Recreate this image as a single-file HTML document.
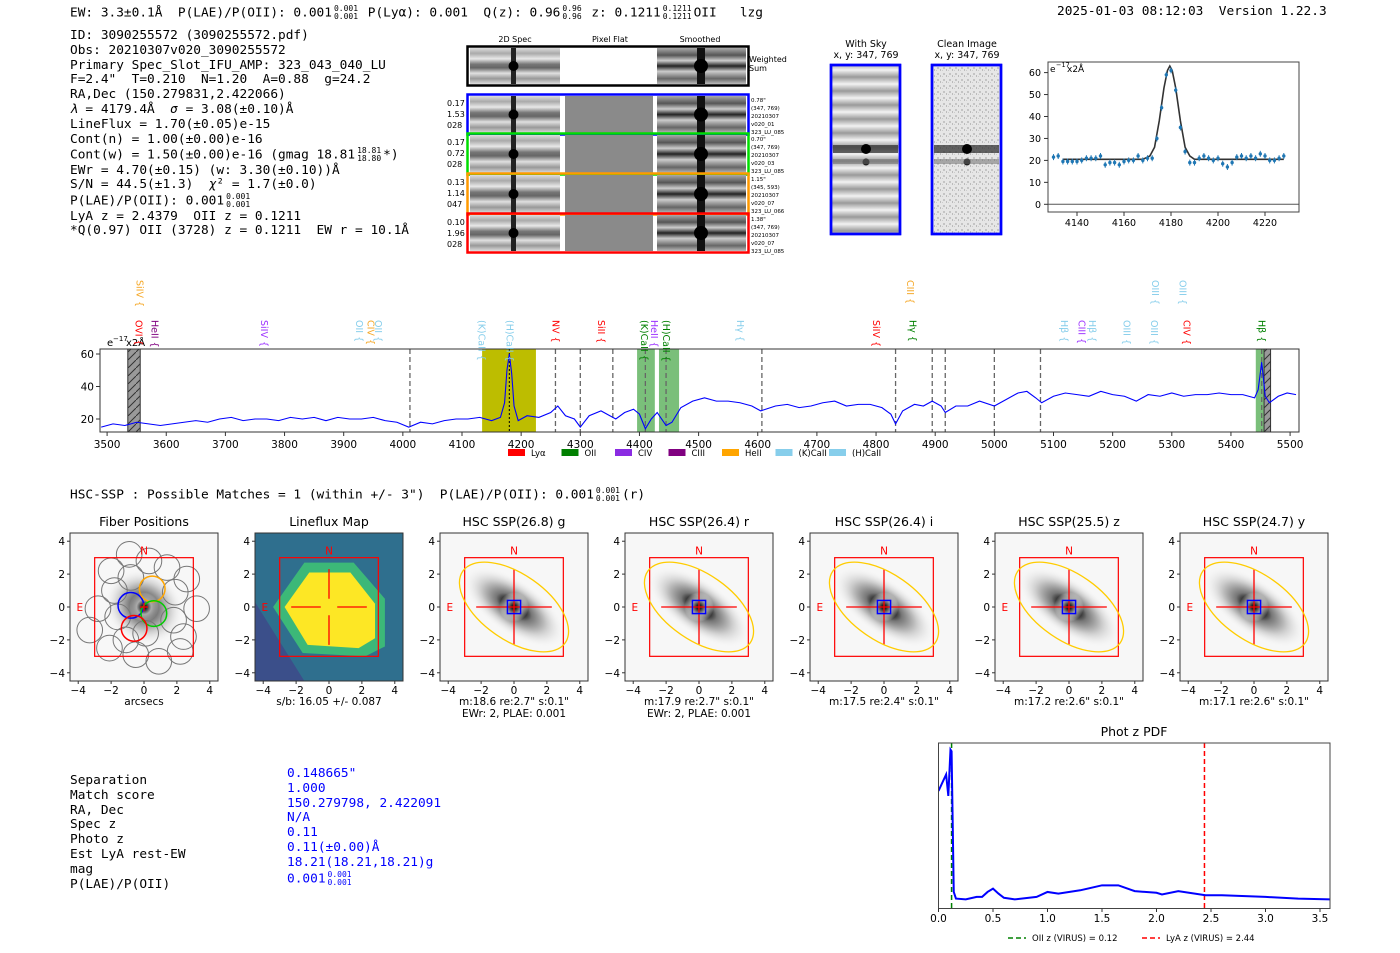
<!DOCTYPE html>
<html><head><meta charset="utf-8"><style>
body{margin:0;background:#fff;width:1400px;height:953px;position:relative;overflow:hidden;font-family:"DejaVu Sans Mono","Liberation Mono",monospace;}
.t{position:absolute;font-size:12.8px;white-space:pre;line-height:14px;color:#000}
.fr{display:inline-block;vertical-align:middle;font-size:8px;line-height:8px;text-align:center;margin:0 2px}
.fr span{display:block}
</style></head><body>
<div class="t" style="left:70px;top:5px">EW: 3.3±0.1Å  P(LAE)/P(OII): 0.001<span class="fr"><span>0.001</span><span>0.001</span></span> P(Lyα): 0.001  Q(z): 0.96<span class="fr"><span>0.96</span><span>0.96</span></span> z: 0.1211<span class="fr"><span>0.1211</span><span>0.1211</span></span>OII   lzg</div>
<div class="t" style="left:1057px;top:5px">2025-01-03 08:12:03  Version 1.22.3</div>
<div class="t" style="left:70px;top:29px;line-height:14.8px">ID: 3090255572 (3090255572.pdf)
Obs: 20210307v020_3090255572
Primary Spec_Slot_IFU_AMP: 323_043_040_LU
F=2.4"  T=0.210  N=1.20  A=0.88  g=24.2
RA,Dec (150.279831,2.422066)
<i>λ</i> = 4179.4Å  <i>σ</i> = 3.08(±0.10)Å
LineFlux = 1.70(±0.05)e-15
Cont(n) = 1.00(±0.00)e-16
Cont(w) = 1.50(±0.00)e-16 (gmag 18.81<span class="fr"><span>18.81</span><span>18.80</span></span>*)
EWr = 4.70(±0.15) (w: 3.30(±0.10))Å
S/N = 44.5(±1.3)  <i>χ</i>² = 1.7(±0.0)
P(LAE)/P(OII): 0.001<span class="fr"><span>0.001</span><span>0.001</span></span>
LyA z = 2.4379  OII z = 0.1211
*Q(0.97) OII (3728) z = 0.1211  EW r = 10.1Å</div>
<div class="t" style="left:70px;top:487px">HSC-SSP : Possible Matches = 1 (within +/- 3")  P(LAE)/P(OII): 0.001<span class="fr"><span>0.001</span><span>0.001</span></span>(r)</div>
<div class="t" style="left:70px;top:774px;line-height:14.8px">Separation
Match score
RA, Dec
Spec z
Photo z
Est LyA rest-EW
mag
P(LAE)/P(OII)</div>
<div class="t" style="left:287px;top:767px;line-height:14.8px;color:#0000ff">0.148665"
1.000
150.279798, 2.422091
N/A
0.11
0.11(±0.00)Å
18.21(18.21,18.21)g
0.001<span class="fr"><span>0.001</span><span>0.001</span></span></div>

<svg id="s" width="1400" height="953" style="position:absolute;left:0;top:0" font-family="DejaVu Sans, Liberation Sans, sans-serif">
<defs>
<pattern id="hatch" width="8" height="8" patternUnits="userSpaceOnUse"><rect width="8" height="8" fill="#999"/><path d="M0 8L8 0" stroke="#333" stroke-width="1"/></pattern>
<linearGradient id="bands" x1="0" y1="0" x2="0" y2="1">
<stop offset="0" stop-color="#ddd"/><stop offset="0.15" stop-color="#aaa"/><stop offset="0.3" stop-color="#e8e8e8"/><stop offset="0.45" stop-color="#777"/><stop offset="0.55" stop-color="#666"/><stop offset="0.7" stop-color="#e0e0e0"/><stop offset="0.85" stop-color="#999"/><stop offset="1" stop-color="#ddd"/></linearGradient>
<linearGradient id="smooth" x1="0" y1="0" x2="0" y2="1">
<stop offset="0" stop-color="#aaa"/><stop offset="0.2" stop-color="#555"/><stop offset="0.35" stop-color="#ccc"/><stop offset="0.5" stop-color="#222"/><stop offset="0.65" stop-color="#ccc"/><stop offset="0.85" stop-color="#666"/><stop offset="1" stop-color="#bbb"/></linearGradient>
<linearGradient id="skyb" x1="0" y1="0" x2="0" y2="14" spreadMethod="repeat" gradientUnits="userSpaceOnUse">
<stop offset="0" stop-color="#f2f2f2"/><stop offset="0.5" stop-color="#9a9a9a"/><stop offset="1" stop-color="#f2f2f2"/></linearGradient>
<pattern id="noise" width="6" height="6" patternUnits="userSpaceOnUse"><rect width="6" height="6" fill="#e6e6e6"/><rect x="1" y="1" width="2" height="2" fill="#c4c4c4"/><rect x="4" y="3" width="1" height="2" fill="#bbb"/><rect x="0" y="4" width="1" height="1" fill="#ccc"/></pattern>
<radialGradient id="gal"><stop offset="0" stop-color="#000"/><stop offset="0.18" stop-color="#111"/><stop offset="0.35" stop-color="#777"/><stop offset="0.65" stop-color="#ccc"/><stop offset="1" stop-color="#f6f6f6" stop-opacity="0"/></radialGradient>
<radialGradient id="gal2"><stop offset="0" stop-color="#000"/><stop offset="0.2" stop-color="#333"/><stop offset="0.5" stop-color="#aaa"/><stop offset="1" stop-color="#fff" stop-opacity="0"/></radialGradient>
</defs>
</svg>
<script>
const specWave=[3490,3510,3530,3550,3570,3590,3610,3630,3650,3670,3690,3710,3730,3750,3770,3790,3810,3830,3850,3870,3890,3910,3930,3950,3970,3990,4010,4030,4050,4070,4090,4110,4130,4150,4165,4172,4176,4180,4184,4188,4195,4210,4230,4250,4262,4275,4290,4300,4315,4335,4350,4360,4375,4390,4400,4410,4420,4430,4445,4455,4470,4490,4510,4530,4550,4570,4590,4605,4630,4650,4670,4690,4710,4730,4750,4770,4790,4810,4825,4833,4845,4865,4880,4895,4910,4917,4935,4955,4975,5000,5020,5040,5055,5070,5080,5100,5120,5140,5160,5180,5200,5220,5240,5260,5280,5300,5320,5340,5360,5380,5400,5420,5440,5446,5452,5458,5465,5480,5495,5510];
const specFlux=[15,17,16,18,17,16,17,18,19,18,20,21,19,20,20,19,21,20,21,19,21,20,20,21,19,18,15,18,17,19,20,20,21,19,21,30,50,60,48,28,19,22,21,24,28,22,20,15,22,25,22,20,24,26,23,14,20,24,16,18,27,31,33,31,31,30,28,25,28,29,27,28,30,31,28,29,29,27,23,17,25,29,28,31,28,24,28,28,31,28,32,36,37,33,30,34,36,35,34,37,35,34,31,35,34,36,34,35,35,36,35,35,33,38,55,34,30,34,36,35];
const specXTicks=[3500,3600,3700,3800,3900,4000,4100,4200,4300,4400,4500,4600,4700,4800,4900,5000,5100,5200,5300,5400,5500];
const specYTicks=[20,40,60];
const dashedLines=[4012,4258,4300,4355,4410,4445,4607,4833,4895,4917,5000,5078,5452];
const lineLabels=[["SiIV",3555,"#f5a623",1],["OVI",3553,"red",0],["HeII",3580,"#800080",0],["SiIV",3765,"#9b30ff",0],["OII",3926,"#87ceeb",0],["CIV",3945,"#f5a623",0],["OII",3958,"#87ceeb",0],["(K)CaII",4133,"#87ceeb",0],["(H)CaII",4180,"#87ceeb",0],["NV",4258,"red",0],["SiII",4335,"red",0],["(K)CaII",4408,"green",0],["HeII",4425,"#9b30ff",0],["(H)CaII",4445,"green",0],["Hγ",4570,"#87ceeb",0],["SiIV",4800,"red",0],["CIII",4857,"#f5a623",1],["Hγ",4862,"green",0],["Hβ",5118,"#87ceeb",0],["CIII",5147,"#9b30ff",0],["Hβ",5165,"#87ceeb",0],["OIII",5223,"#87ceeb",0],["OIII",5272,"#87ceeb",1],["OIII",5270,"#87ceeb",0],["OIII",5318,"#87ceeb",1],["CIV",5325,"red",0],["Hβ",5452,"green",0]];
const legendNames=["Lyα","OII","CIV","CIII","HeII","(K)CaII","(H)CaII"];
const legendColors=["red","green","#8a2be2","#800080","orange","#87ceeb","#87ceeb"];
const zoomWave=[4130,4132,4134,4136,4138,4140,4142,4144,4146,4148,4150,4152,4154,4156,4158,4160,4162,4164,4166,4168,4170,4172,4174,4176,4178,4180,4182,4184,4186,4188,4190,4192,4194,4196,4198,4200,4202,4204,4206,4208,4210,4212,4214,4216,4218,4220,4222,4224,4226,4228];
const zoomFlux=[21.5,22,19.5,19.5,19.5,19.5,20,21,21,21,22,18,19,19,18,19.5,20,20,22,20,21,21,30,44,59,61,52,35,24,19,19,21,22,21,20,21,18.5,17,19,21.5,22,21,22,21,23,22,20,20,21,22];
const fitWave=[4134,4168,4171,4173,4175,4177,4178.5,4179.5,4180.5,4182,4184,4186,4188,4190,4228];
const fitFlux=[20.5,20.5,22,26,38,53,61,63,61,53,38,26,22,20.5,20.5];
const zoomXTicks=[4140,4160,4180,4200,4220];
const zoomYTicks=[0,10,20,30,40,50,60];
const pdfZ=[0,0.07,0.09,0.11,0.12,0.14,0.16,0.25,0.35,0.4,0.45,0.5,0.55,0.6,0.7,0.9,1.0,1.1,1.3,1.5,1.65,1.8,2.0,2.05,2.2,2.45,2.6,3.0,3.3,3.6];
const pdfP=[0.71,0.81,0.68,0.96,0.95,0.1,0.06,0.055,0.07,0.07,0.1,0.12,0.09,0.065,0.055,0.07,0.1,0.09,0.11,0.14,0.14,0.105,0.095,0.085,0.105,0.08,0.08,0.07,0.06,0.055];
const pdfXTicks=[0.0,0.5,1.0,1.5,2.0,2.5,3.0,3.5];
const panelTitles=["Fiber Positions","Lineflux Map","HSC SSP(26.8) g","HSC SSP(26.4) r","HSC SSP(26.4) i","HSC SSP(25.5) z","HSC SSP(24.7) y"];
const panelSub1=["arcsecs","s/b: 16.05 +/- 0.087",'m:18.6  re:2.7"  s:0.1"','m:17.9  re:2.7"  s:0.1"','m:17.5  re:2.4"  s:0.1"','m:17.2  re:2.6"  s:0.1"','m:17.1  re:2.6"  s:0.1"'];
const panelSub2=["","","EWr: 2, PLAE: 0.001","EWr: 2, PLAE: 0.001","","",""];
const panelTicks=[-4,-2,0,2,4];

const S=document.getElementById('s');const NS='http://www.w3.org/2000/svg';
function mk(tag,at,par){const e=document.createElementNS(NS,tag);for(const k in at)e.setAttribute(k,at[k]);(par||S).appendChild(e);return e;}
function txt(x,y,s,at,par){const e=mk('text',Object.assign({x:x,y:y,'font-size':11},at||{}),par);e.textContent=s;return e;}

const sx=w=>100+(w-3488)*0.5915, sy=v=>419-(v-20)*1.625;
let g=mk('g',{});


let r=mk('rect',{x:sx(3535),y:349,width:sx(3556)-sx(3535),height:83,fill:'url(#hatch)',stroke:'#333'},g);


r=mk('rect',{x:sx(4134),y:349,width:sx(4225)-sx(4134),height:83,fill:'#bdbd00'},g);


[[4396,4426],[4433,4467],[5442,5456]].forEach(b=>{const e=mk('rect',{x:sx(b[0]),y:349,width:sx(b[1])-sx(b[0]),height:83,fill:'#6cb86c',opacity:0.9},g);

});
r=mk('rect',{x:sx(5456),y:349,width:sx(5467)-sx(5456),height:83,fill:'url(#hatch)',stroke:'#333'},g);


dashedLines.forEach(w=>{const e=mk('line',{x1:sx(w),x2:sx(w),y1:349,y2:432,stroke:'#666','stroke-dasharray':'5,3','stroke-width':1.3},g);

});
mk('line',{x1:sx(4180),x2:sx(4180),y1:349,y2:432,stroke:'#000','stroke-dasharray':'2,2'},g);
let p=mk('polyline',{points:specWave.map((w,i)=>sx(w)+','+sy(specFlux[i])).join(' '),fill:'none',stroke:'#0000ff','stroke-width':1.1},g);


mk('rect',{x:100,y:349,width:1199,height:83,fill:'none',stroke:'#333'},g);
specXTicks.forEach(t=>{mk('line',{x1:sx(t),x2:sx(t),y1:432,y2:436,stroke:'#333'},g);const e=txt(sx(t),448,String(t),{'text-anchor':'middle','font-size':10.5},g);

});
specYTicks.forEach(t=>{mk('line',{x1:96,x2:100,y1:sy(t),y2:sy(t),stroke:'#333'},g);const e=txt(94,sy(t)+4,String(t),{'text-anchor':'end','font-size':10.5},g);

});
txt(107,346,'e',{'font-size':10},g);txt(113,341,'−17',{'font-size':7},g);txt(126,346,'x2Å',{'font-size':10},g);
lineLabels.forEach(l=>{const x=sx(l[1]),y0=l[3]?280:320;const e=txt(x-3,y0,l[0]+' {',{fill:l[2],'font-size':9.5,transform:'rotate(90 '+(x-3)+' '+y0+')'},g);

});
legendNames.forEach((n,i)=>{const x=508+i*53.5;const rr=mk('rect',{x:x,y:449,width:17,height:7,fill:legendColors[i]},g);


const e=txt(x+23,456,n,{'font-size':8.5},g);

});

const zx=w=>1077+(w-4140)*2.35, zy=v=>204.3-v*2.195;
g=mk('g',{});


mk('line',{x1:1048,x2:1299,y1:zy(0),y2:zy(0),stroke:'#555'},g);
p=mk('polyline',{points:fitWave.map((w,i)=>zx(w)+','+zy(fitFlux[i])).join(' '),fill:'none',stroke:'#333','stroke-width':1.6},g);


zoomWave.forEach((w,i)=>{const c=mk('circle',{cx:zx(w),cy:zy(zoomFlux[i]),r:1.7,fill:'#1f77b4'},g);


mk('line',{x1:zx(w),x2:zx(w),y1:zy(zoomFlux[i])-3,y2:zy(zoomFlux[i])+3,stroke:'#1f77b4'},g);});
mk('rect',{x:1048,y:62,width:251,height:150,fill:'none',stroke:'#444'},g);
zoomXTicks.forEach(t=>{mk('line',{x1:zx(t),x2:zx(t),y1:212,y2:216,stroke:'#333'},g);const e=txt(zx(t),226,String(t),{'text-anchor':'middle','font-size':9.5},g);

});
zoomYTicks.forEach(t=>{mk('line',{x1:1044,x2:1048,y1:zy(t),y2:zy(t),stroke:'#333'},g);const e=txt(1041,zy(t)+3.5,String(t),{'text-anchor':'end','font-size':9.5},g);

});
txt(1050,72,'e',{'font-size':9},g);txt(1056,67,'−17',{'font-size':6.5},g);txt(1067,72,'x2Å',{'font-size':9},g);

[[831,'With Sky'],[932,'Clean Image']].forEach((a,i)=>{const x=a[0];
const t=txt(x+35,47,a[1],{'text-anchor':'middle','font-size':9.5});


txt(x+35,58,'x, y: 347, 769',{'text-anchor':'middle','font-size':9.5});
const rr=mk('rect',{x:x,y:65,width:69,height:169,fill:i?'url(#noise)':'url(#skyb)',stroke:'#0000ff','stroke-width':2.5});


mk('rect',{x:x+2,y:145,width:65,height:8,fill:'#333',opacity:0.75});
mk('circle',{cx:x+35,cy:149,r:5,fill:'#000'});mk('circle',{cx:x+35,cy:162,r:3.5,fill:'#222'});
mk('rect',{x:x+2,y:159,width:65,height:5,fill:'#666',opacity:0.5});
mk('rect',{x:x,y:65,width:69,height:169,fill:'none',stroke:'#0000ff','stroke-width':2.5});});

txt(515,42,'2D Spec',{'text-anchor':'middle','font-size':8});txt(610,42,'Pixel Flat',{'text-anchor':'middle','font-size':8});txt(700,42,'Smoothed',{'text-anchor':'middle','font-size':8});
function cut(y,h,col,flat,labs,side){
 const gg=mk('g',{});
 
 
 mk('rect',{x:470,y:y,width:90,height:h,fill:'url(#bands)'},gg);
 mk('rect',{x:511,y:y,width:5,height:h,fill:'#222'},gg);mk('circle',{cx:513.5,cy:y+h/2,r:5,fill:'#000'},gg);
 mk('rect',{x:565,y:y,width:88,height:h,fill:flat?'#fff':'#8a8a8a'},gg);
 mk('rect',{x:657,y:y,width:89,height:h,fill:'url(#smooth)'},gg);
 mk('rect',{x:697,y:y,width:8,height:h,fill:'#111'},gg);mk('circle',{cx:701,cy:y+h/2,r:7,fill:'#000'},gg);
 mk('rect',{x:467.5,y:y-1.5,width:281,height:h+3,fill:'none',stroke:col,'stroke-width':2.5},gg);
 labs.forEach((l,i)=>txt(447,y+10+i*11,l,{'font-size':8},gg));
 side.forEach((l,i)=>txt(751,y+6+i*8,l,{'font-size':5.5},gg));
}
cut(48,36,'#000',true,[],[]);txt(749,62,'Weighted',{'font-size':8});txt(749,71,'Sum',{'font-size':8});
cut(96,37,'#0000ff',false,['0.17','1.53','028'],['0.78"','(347, 769)','20210307','v020_01','323_LU_085']);
cut(135,38,'#00dd00',false,['0.17','0.72','028'],['0.70"','(347, 769)','20210307','v020_03','323_LU_085']);
cut(175,38,'#ff9900',false,['0.13','1.14','047'],['1.15"','(345, 593)','20210307','v020_07','323_LU_066']);
cut(215,36,'#ff0000',false,['0.10','1.96','028'],['1.38"','(347, 769)','20210307','v020_07','323_LU_085']);

const px0=[70,255,440,625,810,995,1180];
px0.forEach((x0,k)=>{
 const y0=533,W=148,sc=W/9,cx=x0+W/2,cy=y0+W/2,u=v=>v*sc;
 const gg=mk('g',{});
 
 
 const cp=mk('clipPath',{id:'cp'+k},gg);mk('rect',{x:x0,y:y0,width:W,height:W},cp);
 const inner=mk('g',{'clip-path':'url(#cp'+k+')'},gg);
 if(k===1){
  mk('rect',{x:x0,y:y0,width:W,height:W,fill:'#2f6f8e'},inner);
  mk('polygon',{points:[[x0,cy-u(0.3)],[x0+u(3),y0+W],[x0,y0+W]].map(q=>q.join(',')).join(' '),fill:'#3b4f8a'},inner);
  mk('polygon',{points:[[cx-u(3.4),cy],[cx-u(1.5),cy-u(2.7)],[cx+u(1.5),cy-u(2.7)],[cx+u(3.4),cy-u(0.5)],[cx+u(3.4),cy+u(2.4)],[cx+u(2.2),cy+u(3)],[cx-u(1.6),cy+u(2.8)]].map(q=>q.join(',')).join(' '),fill:'#3cb878'},inner);
  mk('polygon',{points:[[cx-u(2.7),cy],[cx-u(1.2),cy-u(2.1)],[cx+u(1.3),cy-u(2.1)],[cx+u(2.8),cy-u(0.2)],[cx+u(2.8),cy+u(1.9)],[cx+u(1.8),cy+u(2.5)],[cx-u(1.3),cy+u(2.3)]].map(q=>q.join(',')).join(' '),fill:'#fde725'},inner);
 } else {
  mk('rect',{x:x0,y:y0,width:W,height:W,fill:'#f7f7f7'},inner);
  mk('ellipse',{cx:cx,cy:cy,rx:u(k===0?2.5:3.6),ry:u(k===0?2.2:1.6),fill:'url(#gal)',transform:'rotate(35 '+cx+' '+cy+')'},inner);
  mk('ellipse',{cx:cx,cy:cy,rx:u(0.9),ry:u(0.9),fill:'url(#gal2)'},inner);
 }
 if(k===0){
  const fib=[[-0.9,3.2],[0.3,2.8],[1.4,2.4],[-2,2.2],[-0.8,1.8],[2.6,1.7],[-1.8,1],[1.9,0.9],[-2.8,-0.1],[3.2,-0.1],[-1.6,-0.6],[1.8,-0.8],[-3.3,-1.4],[-1.1,-2],[0.1,-1.6],[2.4,-1.8],[-2.1,-2.5],[-0.5,-2.9],[0.9,-3.3],[2.2,-2.7]];
  fib.forEach(f=>mk('circle',{cx:cx+u(f[0]),cy:cy-u(f[1]),r:u(0.78),fill:'none',stroke:'#777','stroke-width':1},inner));
  [[-0.8,0.1,'#0000ff'],[0.5,1.1,'orange'],[0.6,-0.4,'#00cc00'],[-0.6,-1.3,'red']].forEach(f=>mk('circle',{cx:cx+u(f[0]),cy:cy-u(f[1]),r:u(0.78),fill:'none',stroke:f[2],'stroke-width':1.5},inner));
 }
 mk('rect',{x:cx-u(3),y:cy-u(3),width:u(6),height:u(6),fill:'none',stroke:'red','stroke-width':1.2},gg);
 if(k>=1){
  const gap=k===1?u(0.5):0;
  mk('path',{d:`M${cx-u(2.3)} ${cy}H${cx-gap}M${cx+gap} ${cy}H${cx+u(2.3)}M${cx} ${cy-u(2.3)}V${cy-gap}M${cx} ${cy+gap}V${cy+u(2.3)}`,stroke:'red','stroke-width':1.3},gg);
 } else mk('path',{d:`M${cx-4} ${cy}H${cx+4}M${cx} ${cy-4}V${cy+4}`,stroke:'red','stroke-width':1.3},gg);
 if(k>=2){
  mk('ellipse',{cx:cx,cy:cy,rx:u(3.8),ry:u(2.0),fill:'none',stroke:'#ffcc00','stroke-width':1.3,transform:'rotate(35 '+cx+' '+cy+')'},gg);
  mk('rect',{x:cx-u(0.4),y:cy-u(0.4),width:u(0.8),height:u(0.8),fill:'none',stroke:'#0000ff','stroke-width':1.5},gg);
 }
 txt(cx,cy-u(3.2),'N',{fill:'red','text-anchor':'middle','font-size':10.5},gg);
 txt(cx-u(3.9),cy+4,'E',{fill:'red','text-anchor':'middle','font-size':10.5},gg);
 mk('rect',{x:x0,y:y0,width:W,height:W,fill:'none',stroke:'#333'},gg);
 panelTicks.forEach(t=>{mk('line',{x1:cx+u(t),x2:cx+u(t),y1:y0+W,y2:y0+W+3,stroke:'#333'},gg);txt(cx+u(t),y0+W+13,t<0?'−'+(-t):String(t),{'text-anchor':'middle','font-size':10.5},gg);
  mk('line',{x1:x0-3,x2:x0,y1:cy-u(t),y2:cy-u(t),stroke:'#333'},gg);txt(x0-5,cy-u(t)+4,t<0?'−'+(-t):String(t),{'text-anchor':'end','font-size':10.5},gg);});
 const tt=txt(cx,y0-7,panelTitles[k],{'text-anchor':'middle','font-size':12.5},gg);
 
 
 txt(cx,y0+W+24,panelSub1[k],{'text-anchor':'middle','font-size':10.5},gg);
 if(panelSub2[k])txt(cx,y0+W+36,panelSub2[k],{'text-anchor':'middle','font-size':10.5},gg);
});

const qx=z=>938.5+z*109, qy=v=>908.5-v*165.5;
g=mk('g',{});


const cp=mk('clipPath',{id:'pdfclip'},g);mk('rect',{x:938.5,y:743,width:391.5,height:165.5},cp);
mk('line',{x1:qx(0.12),x2:qx(0.12),y1:743,y2:908.5,stroke:'green','stroke-dasharray':'5,3','stroke-width':1.5},g);
mk('line',{x1:qx(2.44),x2:qx(2.44),y1:743,y2:908.5,stroke:'red','stroke-dasharray':'5,3','stroke-width':1.5},g);
p=mk('polyline',{points:pdfZ.map((z,i)=>qx(z)+','+qy(pdfP[i])).join(' '),fill:'none',stroke:'#0000ff','stroke-width':2,'clip-path':'url(#pdfclip)'},g);


mk('rect',{x:938.5,y:743,width:391.5,height:165.5,fill:'none',stroke:'#444'},g);
pdfXTicks.forEach(t=>{mk('line',{x1:qx(t),x2:qx(t),y1:908.5,y2:912,stroke:'#333'},g);txt(qx(t),922,t.toFixed(1),{'text-anchor':'middle','font-size':10.5},g);});
let tt=txt(1134,736,'Phot z PDF',{'text-anchor':'middle','font-size':12.5},g);


mk('line',{x1:1008,x2:1026,y1:938,y2:938,stroke:'green','stroke-dasharray':'5,3','stroke-width':1.5},g);
txt(1032,941,'OII z (VIRUS) = 0.12',{'font-size':8.5},g);
mk('line',{x1:1142,x2:1160,y1:938,y2:938,stroke:'red','stroke-dasharray':'5,3','stroke-width':1.5},g);
txt(1166,941,'LyA z (VIRUS) = 2.44',{'font-size':8.5},g);
</script>
</body></html>
